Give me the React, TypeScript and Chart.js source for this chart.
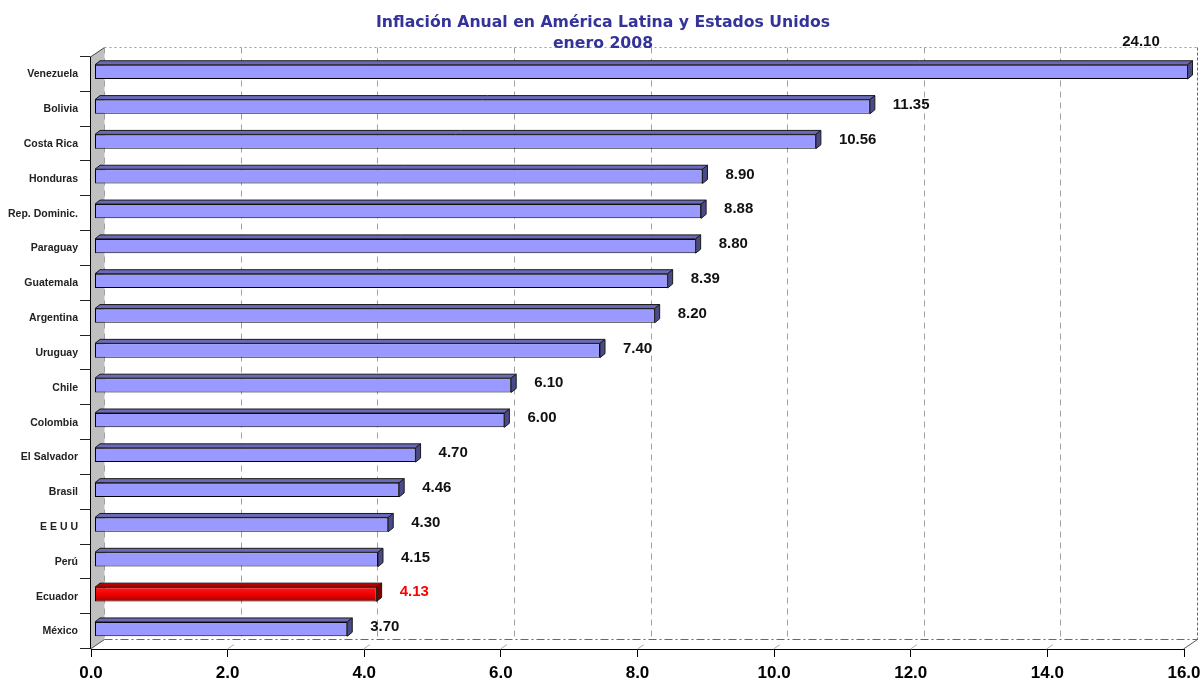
import React, { useEffect, useRef } from 'react';
import { Chart, registerables } from 'chart.js';

Chart.register(...registerables);

const categories = [
  'Venezuela', 'Bolivia', 'Costa Rica', 'Honduras', 'Rep. Dominic.', 'Paraguay',
  'Guatemala', 'Argentina', 'Uruguay', 'Chile', 'Colombia', 'El Salvador',
  'Brasil', 'E E U U', 'Perú', 'Ecuador', 'México',
];
const inflation = [
  24.1, 11.35, 10.56, 8.9, 8.88, 8.8, 8.39, 8.2, 7.4, 6.1, 6.0, 4.7, 4.46, 4.3, 4.15, 4.13, 3.7,
];
const highlighted = 'Ecuador';
const titleLines = ['Inflación Anual en América Latina y Estados Unidos', 'enero 2008'];
const axisMin = 0;
const axisMax = 16;
const axisStep = 2;

const FONT = "'Liberation Sans', Arial, sans-serif";
const TITLE_FONT = "'DejaVu Sans', Verdana, sans-serif";
const WALL_DX = 14;
const WALL_DY = -9.5;
const SHIFT_X = 3.5;
const SHIFT_Y = -2.5;
const DEPTH_X = 5;
const DEPTH_Y = -4;

const titlePlugin = {
  id: 'titleLines',
  afterDraw(chart: any) {
    const { ctx, width } = chart;
    ctx.save();
    ctx.fillStyle = '#333399';
    ctx.font = `bold 15.7px ${TITLE_FONT}`;
    ctx.textAlign = 'center';
    ctx.textBaseline = 'alphabetic';
    titleLines.forEach((line, i) => {
      ctx.fillText(line, width / 2 + 2.5, 27 + i * 21);
    });
    ctx.restore();
  },
};

const threeD = {
  id: 'threeD',
  beforeDatasetsDraw(chart: any) {
    const { ctx, chartArea: a, scales } = chart;
    const xs = scales.x;
    const ys = scales.y;
    const L = Math.round(a.left) - 0.5;
    const top = a.top;
    const bottom = a.bottom;
    const R = Math.round(xs.getPixelForValue(axisMax)) - 0.5;
    ctx.save();
    // left wall
    ctx.fillStyle = '#c0c0c0';
    ctx.beginPath();
    ctx.moveTo(L, top);
    ctx.lineTo(L + WALL_DX, top + WALL_DY);
    ctx.lineTo(L + WALL_DX, bottom + WALL_DY);
    ctx.lineTo(L, bottom);
    ctx.closePath();
    ctx.fill();
    ctx.strokeStyle = '#444';
    ctx.lineWidth = 1;
    ctx.beginPath();
    ctx.moveTo(L, top);
    ctx.lineTo(L + WALL_DX, top + WALL_DY);
    ctx.stroke();
    // back wall grid lines
    ctx.strokeStyle = '#a0a0a0';
    ctx.setLineDash([6, 5]);
    for (let v = axisMin; v < axisMax; v += axisStep) {
      const px = Math.round(xs.getPixelForValue(v)) - 0.5 + WALL_DX;
      ctx.beginPath();
      ctx.moveTo(px, top + WALL_DY);
      ctx.lineTo(px, bottom + WALL_DY);
      ctx.stroke();
    }
    // top border dotted
    ctx.strokeStyle = '#999';
    ctx.setLineDash([2, 3]);
    ctx.beginPath();
    ctx.moveTo(L + WALL_DX, Math.round(top + WALL_DY) - 0.5);
    ctx.lineTo(R + WALL_DX, Math.round(top + WALL_DY) - 0.5);
    ctx.stroke();
    // right border
    ctx.strokeStyle = '#666';
    ctx.setLineDash([3, 2]);
    ctx.beginPath();
    ctx.moveTo(R + WALL_DX, top + WALL_DY);
    ctx.lineTo(R + WALL_DX, bottom + WALL_DY);
    ctx.stroke();
    // bottom back edge dash-dot
    ctx.strokeStyle = '#666';
    ctx.setLineDash([8, 3, 2, 3]);
    ctx.beginPath();
    ctx.moveTo(L + WALL_DX, Math.round(bottom + WALL_DY) - 0.5);
    ctx.lineTo(R + WALL_DX, Math.round(bottom + WALL_DY) - 0.5);
    ctx.stroke();
    ctx.setLineDash([]);
    // floor diagonals
    for (let v = axisMin; v <= axisMax; v += axisStep) {
      const px = Math.round(xs.getPixelForValue(v)) - 0.5;
      const full = v === axisMin || v === axisMax;
      const f = full ? 1 : 0.45;
      ctx.strokeStyle = full ? '#555' : '#aaa';
      ctx.beginPath();
      ctx.moveTo(px, bottom);
      ctx.lineTo(px + WALL_DX * f, bottom + WALL_DY * f);
      ctx.stroke();
    }
    // left axis line
    ctx.strokeStyle = '#000';
    ctx.beginPath();
    ctx.moveTo(L, top);
    ctx.lineTo(L, bottom);
    ctx.stroke();
    // category boundary ticks
    const n = categories.length;
    const band = (ys.getPixelForValue(n - 1) - ys.getPixelForValue(0)) / (n - 1);
    ctx.strokeStyle = '#222';
    for (let i = 0; i <= n; i++) {
      const yb = Math.round(ys.getPixelForValue(0) - band / 2 + i * band) - 0.5;
      ctx.beginPath();
      ctx.moveTo(L - 10.5, yb);
      ctx.lineTo(L, yb);
      ctx.stroke();
    }
    ctx.restore();
    ctx.save();
    ctx.translate(SHIFT_X, SHIFT_Y);
  },
  afterDatasetsDraw(chart: any) {
    const { ctx, chartArea: a } = chart;
    const meta = chart.getDatasetMeta(0);
    ctx.lineWidth = 1;
    ctx.setLineDash([]);
    meta.data.forEach((bar: any, i: number) => {
      const { x, y, base, height } = bar.getProps(['x', 'y', 'base', 'height'], true);
      const end = Math.min(x, a.right);
      const t = y - height / 2;
      const b = y + height / 2;
      const hi = categories[i] === highlighted;
      ctx.strokeStyle = '#1a1a1a';
      ctx.fillStyle = hi ? '#b80000' : '#6a6ab8';
      ctx.beginPath();
      ctx.moveTo(base, t);
      ctx.lineTo(base + DEPTH_X, t + DEPTH_Y);
      ctx.lineTo(end + DEPTH_X, t + DEPTH_Y);
      ctx.lineTo(end, t);
      ctx.closePath();
      ctx.fill();
      ctx.stroke();
      ctx.fillStyle = hi ? '#7a0000' : '#4a4a88';
      ctx.beginPath();
      ctx.moveTo(end, t);
      ctx.lineTo(end + DEPTH_X, t + DEPTH_Y);
      ctx.lineTo(end + DEPTH_X, b + DEPTH_Y);
      ctx.lineTo(end, b);
      ctx.closePath();
      ctx.fill();
      ctx.stroke();
    });
    ctx.restore();
    // value labels
    ctx.save();
    ctx.font = `bold 15px ${FONT}`;
    ctx.textBaseline = 'middle';
    meta.data.forEach((bar: any, i: number) => {
      const { x, y } = bar.getProps(['x', 'y'], true);
      const v = inflation[i];
      const txt = v.toFixed(2);
      ctx.fillStyle = categories[i] === highlighted ? '#ff0000' : '#111';
      if (v > axisMax) {
        ctx.textAlign = 'center';
        ctx.fillText(txt, a.right - 43, a.top - 15);
      } else {
        ctx.textAlign = 'left';
        ctx.fillText(txt, Math.min(x, a.right) + SHIFT_X + 23, y + SHIFT_Y - 2);
      }
    });
    ctx.restore();
  },
};

export default function App() {
  const ref = useRef<HTMLCanvasElement | null>(null);
  useEffect(() => {
    if (!ref.current) return;
    const chart = new Chart(ref.current, {
      type: 'bar',
      data: {
        labels: categories,
        datasets: [
          {
            data: inflation,
            backgroundColor: (c: any) => {
              if (categories[c.dataIndex] !== highlighted) return '#9999ff';
              const ys = c.chart.scales && c.chart.scales.y;
              if (!ys) return '#ee0000';
              const yc = ys.getPixelForValue(c.dataIndex);
              const g = c.chart.ctx.createLinearGradient(0, yc - 7, 0, yc + 7);
              g.addColorStop(0, '#ff1a1a');
              g.addColorStop(0.5, '#f00000');
              g.addColorStop(1, '#a80000');
              return g;
            },
            borderColor: '#000',
            borderWidth: 1,
            borderSkipped: false,
            barPercentage: 0.41,
            categoryPercentage: 1,
          } as any,
        ],
      },
      options: {
        indexAxis: 'y',
        animation: false,
        responsive: false,
        events: [],
        layout: { padding: { left: 0, right: 17, top: 57, bottom: 0 } },
        plugins: {
          legend: { display: false },
          tooltip: { enabled: false },
          title: { display: false },
        },
        scales: {
          x: {
            type: 'linear',
            min: axisMin,
            max: axisMax,
            position: 'bottom',
            ticks: {
              stepSize: axisStep,
              callback: (v: any) => Number(v).toFixed(1),
              color: '#000',
              font: { family: FONT, size: 17, weight: 'bold' },
              padding: 6,
              maxRotation: 0,
              autoSkip: false,
            },
            grid: { display: true, drawOnChartArea: false, drawTicks: true, tickLength: 8, color: '#000' },
            border: { display: true, color: '#000' },
            afterFit: (s: any) => {
              s.height = 31;
              s.paddingLeft = 0;
              s.paddingRight = 0;
            },
          },
          y: {
            type: 'category',
            offset: true,
            ticks: {
              color: '#222',
              font: { family: FONT, size: 10.5, weight: 'bold' },
              padding: 13,
              autoSkip: false,
            },
            grid: { display: false, drawTicks: false },
            border: { display: false },
            afterFit: (s: any) => {
              s.width = 91;
              s.paddingTop = 0;
              s.paddingBottom = 0;
            },
          },
        },
      } as any,
      plugins: [threeD, titlePlugin],
    });
    return () => chart.destroy();
  }, []);
  return (
    <div style={{ position: 'fixed', left: 0, top: 0, width: 1201, height: 680, background: '#fff' }}>
      <canvas ref={ref} width={1201} height={680} style={{ display: 'block' }} />
    </div>
  );
}
